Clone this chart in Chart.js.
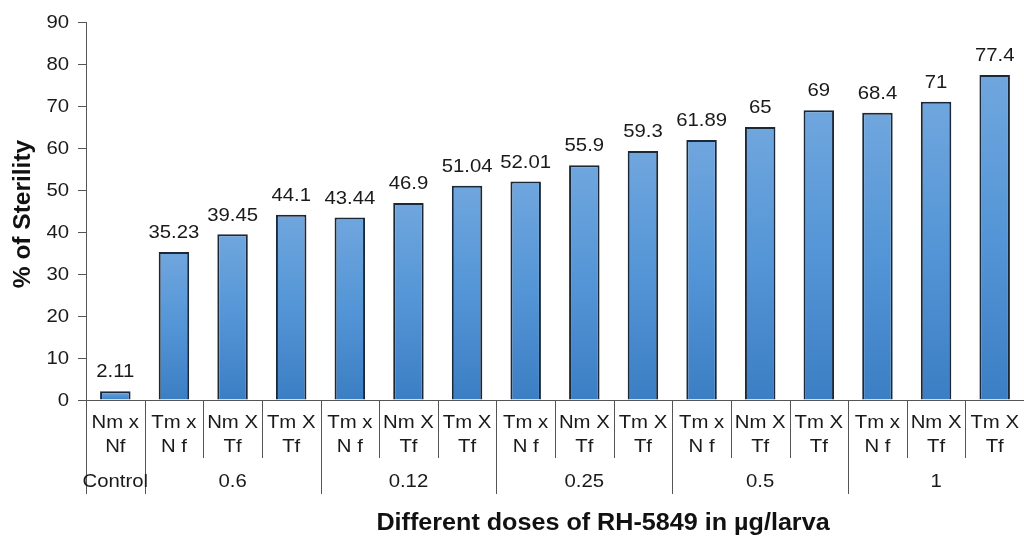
<!DOCTYPE html>
<html>
<head>
<meta charset="utf-8">
<script src="https://cdn.jsdelivr.net/npm/chart.js@4.4.1/dist/chart.umd.min.js"></script>
<style>
html,body{margin:0;padding:0;background:#fff;}
#wrap{width:1024px;height:536px;}
</style>
</head>
<body>
<div id="wrap"><canvas id="c" width="1024" height="536"></canvas></div>
<script>
const crossLabels = [
  ['Nm x','Nf'],
  ['Tm x','N f'],['Nm X','Tf'],['Tm X','Tf'],
  ['Tm x','N f'],['Nm X','Tf'],['Tm X','Tf'],
  ['Tm x','N f'],['Nm X','Tf'],['Tm X','Tf'],
  ['Tm x','N f'],['Nm X','Tf'],['Tm X','Tf'],
  ['Tm x','N f'],['Nm X','Tf'],['Tm X','Tf']
];
const doseGroups = ['Control','0.6','0.12','0.25','0.5','1'];
const groupSizes = [1,3,3,3,3,3];
const sterility = [2.11,35.23,39.45,44.1,43.44,46.9,51.04,52.01,55.9,59.3,61.89,65,69,68.4,71,77.4];
const yTitle = '% of Sterility';
const xTitle = 'Different doses of RH-5849 in µg/larva';

const FONT = 'Liberation Sans, Arial, sans-serif';
const TXT = '#1a1a1a';
const LINE = '#555';
const SX = 1.07;

function barGradient(ctx){
  const chart = ctx.chart;
  if(!chart.chartArea || ctx.type !== 'data') return '#4a8bcf';
  const y = chart.scales.y;
  const top = y.getPixelForValue(ctx.raw);
  const bot = y.getPixelForValue(0);
  const g = chart.ctx.createLinearGradient(0, top, 0, bot);
  g.addColorStop(0, '#70a6de');
  g.addColorStop(0.5, '#5395d6');
  g.addColorStop(1, '#3c7ec3');
  return g;
}

function txt(c, s, x, y, align){
  c.save();
  c.translate(x, y);
  c.scale(SX, 1);
  c.textAlign = align || 'center';
  c.fillText(s, 0, 0);
  c.restore();
}

const decor = {
  id:'decor',
  afterDatasetsDraw(chart){
    const c = chart.ctx;
    const meta = chart.getDatasetMeta(0);
    c.save();
    c.fillStyle = TXT;
    c.font = '19px ' + FONT;
    c.textBaseline = 'middle';
    meta.data.forEach((bar,i)=>{
      txt(c, String(sterility[i]), bar.x, bar.y - 19);
    });
    c.restore();
  },
  afterDraw(chart){
    const c = chart.ctx;
    const xs = chart.scales.x, ys = chart.scales.y;
    const area = chart.chartArea;
    const n = crossLabels.length;
    const w = (xs.getPixelForValue(1) - xs.getPixelForValue(0));
    const left = xs.getPixelForValue(0) - w/2;
    const base = area.bottom;
    c.save();
    c.strokeStyle = LINE;
    c.lineWidth = 1;
    const groupBounds = [0];
    let acc = 0;
    groupSizes.forEach(s=>{acc+=s; groupBounds.push(acc);});
    for(let k=0;k<=n;k++){
      const x = Math.round(left + k*w) + 0.5;
      const long = groupBounds.includes(k);
      c.beginPath();
      c.moveTo(x, base);
      c.lineTo(x, base + (long ? 94 : 58));
      c.stroke();
    }
    c.fillStyle = TXT;
    c.font = '19px ' + FONT;
    c.textBaseline = 'middle';
    ys.ticks.forEach(t=>{
      txt(c, String(t.value), 69, ys.getPixelForValue(t.value) + 1, 'right');
    });
    crossLabels.forEach((lab,i)=>{
      const x = xs.getPixelForValue(i);
      txt(c, lab[0], x, base + 23);
      txt(c, lab[1], x, base + 47);
    });
    doseGroups.forEach((g,j)=>{
      const a = groupBounds[j], b = groupBounds[j+1];
      txt(c, g, left + (a+b)/2*w, base + 82);
    });
    c.font = 'bold 23.5px ' + FONT;
    c.fillStyle = '#111';
    txt(c, xTitle, 603, 524);
    c.translate(23, 214);
    c.rotate(-Math.PI/2);
    c.font = 'bold 24.5px ' + FONT;
    c.textAlign = 'center';
    c.fillText(yTitle, 0, 0);
    c.restore();
  }
};

new Chart(document.getElementById('c'), {
  type:'bar',
  data:{
    labels: crossLabels.map(l=>l.join(' ')),
    datasets:[{
      data: sterility,
      backgroundColor: barGradient,
      borderColor:'#1b2838',
      borderWidth:2,
      barPercentage:0.52,
      categoryPercentage:1.0
    }]
  },
  options:{
    responsive:false,
    animation:false,
    devicePixelRatio:1,
    layout:{padding:{top:22,right:0,left:0,bottom:0}},
    plugins:{legend:{display:false}, tooltip:{enabled:false}},
    scales:{
      x:{
        offset:true,
        ticks:{display:false},
        grid:{display:false},
        border:{display:true, color:LINE, width:1},
        afterFit(s){ s.height = 136; }
      },
      y:{
        min:0, max:90,
        ticks:{stepSize:10, display:false},
        grid:{drawOnChartArea:false, drawTicks:true, tickLength:8, color:LINE},
        border:{display:true, color:LINE, width:1},
        afterFit(s){ s.width = 86; }
      }
    }
  },
  plugins:[decor]
});
</script>
</body>
</html>
